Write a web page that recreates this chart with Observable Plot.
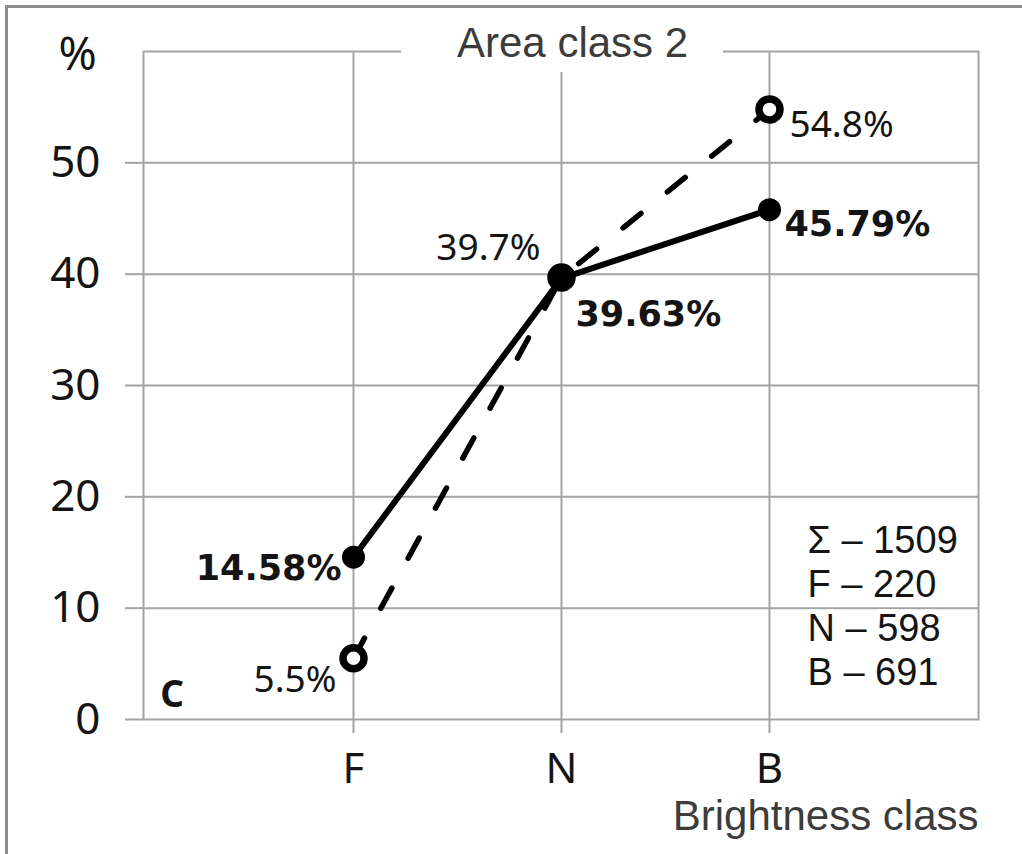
<!DOCTYPE html>
<html>
<head>
<meta charset="utf-8">
<script src="https://cdn.jsdelivr.net/npm/d3@7"></script>
<script src="https://cdn.jsdelivr.net/npm/@observablehq/plot@0.6"></script>
<style>
  html, body { margin: 0; padding: 0; background: #fff; }
  #wrap { position: relative; width: 1022px; height: 854px; overflow: hidden; background: #fff; }
  #wrap svg { position: absolute; left: 0; top: 0; }
  #wrap svg text { paint-order: stroke; }
  #border { position: absolute; left: 5px; top: 5px; width: 1100px; height: 1000px;
            border-top: 3px solid #8c8c8c; border-left: 3px solid #8c8c8c; pointer-events: none; }
  #title { position: absolute; left: 401px; top: 14px; width: 322px; height: 58px; box-sizing: border-box;
           padding-top: 8px; padding-left: 56px; background: #fff; white-space: nowrap;
           font-family: "Liberation Sans", Arial, sans-serif; font-size: 42px; line-height: 42px; color: #3c3c3c; }
</style>
</head>
<body>
<div id="wrap">
  <div id="chart"></div>
  <div id="border"></div>
  <div id="title">Area class 2</div>
</div>
<script>
// ---- data ----
const categories = ["F", "N", "B"];
const solidValues = [14.58, 39.63, 45.79];
const dashedValues = [5.5, 39.7, 54.8];
const solidLabels = ["14.58%", "39.63%", "45.79%"];
const dashedLabels = ["5.5%", "39.7%", "54.8%"];
const yTicks = [0, 10, 20, 30, 40, 50];
const statsLines = ["Σ – 1509", "F – 220", "N – 598", "B – 691"];
const yUnit = "%";
const xTitle = "Brightness class";
const panelLetter = "C";

const solidRows = categories.map((c, i) => ({cat: c, v: solidValues[i], label: solidLabels[i]}));
const dashedRows = categories.map((c, i) => ({cat: c, v: dashedValues[i], label: dashedLabels[i]}));

const gridColor = "#a3a3a3";
const ink = "#141414";

// label offsets (style only)
const solidOff = [{dx: -12, dy: 12, a: "end"}, {dx: 14, dy: 37, a: "start"}, {dx: 15, dy: 15, a: "start"}];
const dashedOff = [{dx: -17, dy: 22, a: "end"}, {dx: -21, dy: -29, a: "end"}, {dx: 20, dy: 16, a: "start"}];

const labelMarks = [];
solidRows.forEach((r, i) => labelMarks.push(Plot.text([r], {
  x: "cat", y: "v", text: "label", dx: solidOff[i].dx, dy: solidOff[i].dy, textAnchor: solidOff[i].a,
  lineAnchor: "middle", fontSize: 35, fontWeight: "bold", fontFamily: "DejaVu Sans", fill: ink
})));
dashedRows.forEach((r, i) => labelMarks.push(Plot.text([r], {
  x: "cat", y: "v", text: "label", dx: dashedOff[i].dx, dy: dashedOff[i].dy, textAnchor: dashedOff[i].a,
  lineAnchor: "middle", fontSize: 37, fontFamily: "Noto Sans", fill: ink
})));

const statsText = statsLines.join("\n");

const chart = Plot.plot({
  width: 1022,
  height: 854,
  marginLeft: 143,
  marginRight: 44,
  marginTop: 51,
  marginBottom: 135,
  style: {fontFamily: "Noto Sans", background: "transparent"},
  x: {type: "point", domain: categories, padding: 1, label: null},
  y: {domain: [0, 60], label: null},
  marks: [
    Plot.gridY(yTicks.filter(t => t > 0), {stroke: gridColor, strokeOpacity: 1, strokeWidth: 2}),
    Plot.gridX({stroke: gridColor, strokeOpacity: 1, strokeWidth: 2}),
    Plot.frame({stroke: gridColor, strokeWidth: 2}),
    Plot.axisY(yTicks, {tickSize: 18, tickPadding: 25, stroke: gridColor, strokeWidth: 2, fill: ink,
      fontSize: 44, fontFamily: "Noto Sans", label: null}),
    Plot.axisX({tickSize: 14, tickPadding: 20, stroke: gridColor, strokeWidth: 2, fill: ink,
      fontSize: 42, fontFamily: "Noto Sans", label: null}),
    // dashed series
    Plot.line(dashedRows, {x: "cat", y: "v", stroke: "black", strokeWidth: 5.5,
      strokeDasharray: "23,34", strokeLinecap: "round"}),
    Plot.dot(dashedRows, {x: "cat", y: "v", r: 10.5, fill: "white", stroke: "black", strokeWidth: 7.5}),
    // solid series
    Plot.line(solidRows, {x: "cat", y: "v", stroke: "black", strokeWidth: 6}),
    Plot.dot(solidRows, {x: "cat", y: "v", r: 11.5, fill: "black", stroke: "none"}),
    ...labelMarks,
    // unit label
    Plot.text([yUnit], {frameAnchor: "top-left", dx: -66, dy: 4, textAnchor: "middle", lineAnchor: "middle",
      fontSize: 46, fontFamily: "Noto Sans", fill: ink}),
    // x title
    Plot.text([xTitle], {frameAnchor: "bottom-right", dy: 97, textAnchor: "end", lineAnchor: "middle",
      fontSize: 42, fontFamily: "Liberation Sans", fill: "#3c3c3c"}),
    // panel letter
    Plot.text([panelLetter], {frameAnchor: "bottom-left", dx: 28.5, dy: -24, textAnchor: "middle", lineAnchor: "middle",
      fontSize: 37, fontWeight: "bold", fontFamily: "Noto Sans", fill: ink}),
    // stats box (text with white halo that breaks the grid line)
    Plot.text([statsText], {frameAnchor: "top-left", dx: 664, dy: 470, textAnchor: "start", lineAnchor: "top",
      lineHeight: 1.16, fontSize: 38, fontFamily: "Liberation Sans", fill: ink, stroke: "white", strokeWidth: 10,
      paintOrder: "stroke"})
  ]
});
document.getElementById("chart").appendChild(chart);
</script>
</body>
</html>
